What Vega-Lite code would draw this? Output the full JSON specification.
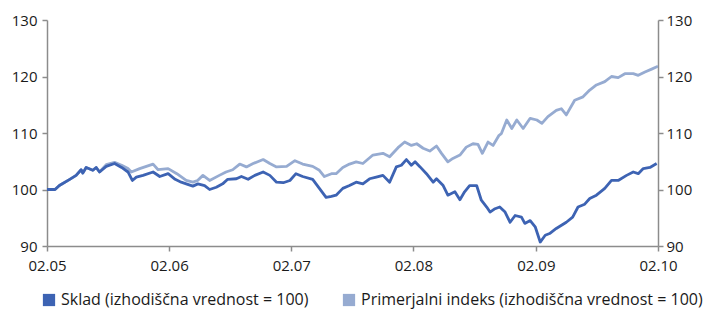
{
  "$schema": "https://vega.github.io/schema/vega-lite/v6.json",
  "width": 611,
  "height": 226,
  "autosize": "none",
  "padding": {"left": 47, "top": 20, "right": 47, "bottom": 65},
  "background": "white",
  "config": {
    "view": {"stroke": null},
    "font": "Open Sans",
    "axis": {"labelFont": "Open Sans", "labelColor": "#1a1a1a", "domainColor": "#8c8c8c", "tickColor": "#8c8c8c", "domainWidth": 1.5, "tickWidth": 1.5, "grid": false, "title": null}
  },
  "data": {
    "values": [
      {"d": "2005-02-01", "s": "Primerjalni indeks (izhodiščna vrednost = 100)", "v": 100.0},
      {"d": "2005-02-25", "s": "Primerjalni indeks (izhodiščna vrednost = 100)", "v": 100.0},
      {"d": "2005-03-10", "s": "Primerjalni indeks (izhodiščna vrednost = 100)", "v": 100.7},
      {"d": "2005-04-10", "s": "Primerjalni indeks (izhodiščna vrednost = 100)", "v": 101.8},
      {"d": "2005-04-29", "s": "Primerjalni indeks (izhodiščna vrednost = 100)", "v": 102.5},
      {"d": "2005-05-14", "s": "Primerjalni indeks (izhodiščna vrednost = 100)", "v": 103.5},
      {"d": "2005-05-19", "s": "Primerjalni indeks (izhodiščna vrednost = 100)", "v": 102.9},
      {"d": "2005-05-29", "s": "Primerjalni indeks (izhodiščna vrednost = 100)", "v": 103.9},
      {"d": "2005-06-18", "s": "Primerjalni indeks (izhodiščna vrednost = 100)", "v": 103.4},
      {"d": "2005-06-28", "s": "Primerjalni indeks (izhodiščna vrednost = 100)", "v": 103.9},
      {"d": "2005-07-08", "s": "Primerjalni indeks (izhodiščna vrednost = 100)", "v": 103.1},
      {"d": "2005-07-28", "s": "Primerjalni indeks (izhodiščna vrednost = 100)", "v": 104.4},
      {"d": "2005-08-22", "s": "Primerjalni indeks (izhodiščna vrednost = 100)", "v": 104.8},
      {"d": "2005-09-12", "s": "Primerjalni indeks (izhodiščna vrednost = 100)", "v": 104.3},
      {"d": "2005-10-01", "s": "Primerjalni indeks (izhodiščna vrednost = 100)", "v": 103.7},
      {"d": "2005-10-11", "s": "Primerjalni indeks (izhodiščna vrednost = 100)", "v": 103.1},
      {"d": "2005-11-05", "s": "Primerjalni indeks (izhodiščna vrednost = 100)", "v": 103.7},
      {"d": "2005-12-15", "s": "Primerjalni indeks (izhodiščna vrednost = 100)", "v": 104.5},
      {"d": "2005-12-30", "s": "Primerjalni indeks (izhodiščna vrednost = 100)", "v": 103.5},
      {"d": "2006-01-29", "s": "Primerjalni indeks (izhodiščna vrednost = 100)", "v": 103.7},
      {"d": "2006-02-24", "s": "Primerjalni indeks (izhodiščna vrednost = 100)", "v": 102.8},
      {"d": "2006-03-24", "s": "Primerjalni indeks (izhodiščna vrednost = 100)", "v": 101.6},
      {"d": "2006-04-13", "s": "Primerjalni indeks (izhodiščna vrednost = 100)", "v": 101.3},
      {"d": "2006-04-27", "s": "Primerjalni indeks (izhodiščna vrednost = 100)", "v": 101.6},
      {"d": "2006-05-13", "s": "Primerjalni indeks (izhodiščna vrednost = 100)", "v": 102.5},
      {"d": "2006-06-02", "s": "Primerjalni indeks (izhodiščna vrednost = 100)", "v": 101.6},
      {"d": "2006-07-01", "s": "Primerjalni indeks (izhodiščna vrednost = 100)", "v": 102.5},
      {"d": "2006-07-21", "s": "Primerjalni indeks (izhodiščna vrednost = 100)", "v": 103.1},
      {"d": "2006-08-10", "s": "Primerjalni indeks (izhodiščna vrednost = 100)", "v": 103.5},
      {"d": "2006-08-31", "s": "Primerjalni indeks (izhodiščna vrednost = 100)", "v": 104.5},
      {"d": "2006-09-20", "s": "Primerjalni indeks (izhodiščna vrednost = 100)", "v": 104.0},
      {"d": "2006-10-10", "s": "Primerjalni indeks (izhodiščna vrednost = 100)", "v": 104.6},
      {"d": "2006-11-09", "s": "Primerjalni indeks (izhodiščna vrednost = 100)", "v": 105.3},
      {"d": "2006-11-29", "s": "Primerjalni indeks (izhodiščna vrednost = 100)", "v": 104.6},
      {"d": "2006-12-19", "s": "Primerjalni indeks (izhodiščna vrednost = 100)", "v": 104.0},
      {"d": "2007-01-18", "s": "Primerjalni indeks (izhodiščna vrednost = 100)", "v": 104.1},
      {"d": "2007-02-12", "s": "Primerjalni indeks (izhodiščna vrednost = 100)", "v": 105.1},
      {"d": "2007-03-07", "s": "Primerjalni indeks (izhodiščna vrednost = 100)", "v": 104.5},
      {"d": "2007-04-06", "s": "Primerjalni indeks (izhodiščna vrednost = 100)", "v": 104.1},
      {"d": "2007-04-26", "s": "Primerjalni indeks (izhodiščna vrednost = 100)", "v": 103.4},
      {"d": "2007-05-11", "s": "Primerjalni indeks (izhodiščna vrednost = 100)", "v": 102.3},
      {"d": "2007-06-01", "s": "Primerjalni indeks (izhodiščna vrednost = 100)", "v": 102.8},
      {"d": "2007-06-15", "s": "Primerjalni indeks (izhodiščna vrednost = 100)", "v": 102.8},
      {"d": "2007-07-05", "s": "Primerjalni indeks (izhodiščna vrednost = 100)", "v": 103.9},
      {"d": "2007-07-25", "s": "Primerjalni indeks (izhodiščna vrednost = 100)", "v": 104.5},
      {"d": "2007-08-14", "s": "Primerjalni indeks (izhodiščna vrednost = 100)", "v": 104.9},
      {"d": "2007-09-03", "s": "Primerjalni indeks (izhodiščna vrednost = 100)", "v": 104.6},
      {"d": "2007-10-03", "s": "Primerjalni indeks (izhodiščna vrednost = 100)", "v": 106.1},
      {"d": "2007-11-02", "s": "Primerjalni indeks (izhodiščna vrednost = 100)", "v": 106.4},
      {"d": "2007-11-22", "s": "Primerjalni indeks (izhodiščna vrednost = 100)", "v": 105.8},
      {"d": "2007-12-17", "s": "Primerjalni indeks (izhodiščna vrednost = 100)", "v": 107.4},
      {"d": "2008-01-06", "s": "Primerjalni indeks (izhodiščna vrednost = 100)", "v": 108.4},
      {"d": "2008-01-26", "s": "Primerjalni indeks (izhodiščna vrednost = 100)", "v": 107.8},
      {"d": "2008-02-11", "s": "Primerjalni indeks (izhodiščna vrednost = 100)", "v": 108.1},
      {"d": "2008-03-01", "s": "Primerjalni indeks (izhodiščna vrednost = 100)", "v": 107.3},
      {"d": "2008-03-21", "s": "Primerjalni indeks (izhodiščna vrednost = 100)", "v": 106.8},
      {"d": "2008-04-10", "s": "Primerjalni indeks (izhodiščna vrednost = 100)", "v": 107.7},
      {"d": "2008-04-25", "s": "Primerjalni indeks (izhodiščna vrednost = 100)", "v": 106.4},
      {"d": "2008-05-14", "s": "Primerjalni indeks (izhodiščna vrednost = 100)", "v": 104.9},
      {"d": "2008-05-29", "s": "Primerjalni indeks (izhodiščna vrednost = 100)", "v": 105.5},
      {"d": "2008-06-19", "s": "Primerjalni indeks (izhodiščna vrednost = 100)", "v": 106.1},
      {"d": "2008-07-08", "s": "Primerjalni indeks (izhodiščna vrednost = 100)", "v": 107.5},
      {"d": "2008-07-28", "s": "Primerjalni indeks (izhodiščna vrednost = 100)", "v": 108.1},
      {"d": "2008-08-12", "s": "Primerjalni indeks (izhodiščna vrednost = 100)", "v": 108.0},
      {"d": "2008-08-25", "s": "Primerjalni indeks (izhodiščna vrednost = 100)", "v": 106.4},
      {"d": "2008-09-11", "s": "Primerjalni indeks (izhodiščna vrednost = 100)", "v": 108.4},
      {"d": "2008-09-26", "s": "Primerjalni indeks (izhodiščna vrednost = 100)", "v": 107.8},
      {"d": "2008-10-14", "s": "Primerjalni indeks (izhodiščna vrednost = 100)", "v": 109.6},
      {"d": "2008-10-21", "s": "Primerjalni indeks (izhodiščna vrednost = 100)", "v": 109.9},
      {"d": "2008-11-06", "s": "Primerjalni indeks (izhodiščna vrednost = 100)", "v": 112.3},
      {"d": "2008-11-21", "s": "Primerjalni indeks (izhodiščna vrednost = 100)", "v": 110.8},
      {"d": "2008-12-06", "s": "Primerjalni indeks (izhodiščna vrednost = 100)", "v": 112.3},
      {"d": "2008-12-25", "s": "Primerjalni indeks (izhodiščna vrednost = 100)", "v": 110.8},
      {"d": "2009-01-15", "s": "Primerjalni indeks (izhodiščna vrednost = 100)", "v": 112.6},
      {"d": "2009-02-04", "s": "Primerjalni indeks (izhodiščna vrednost = 100)", "v": 112.3},
      {"d": "2009-02-19", "s": "Primerjalni indeks (izhodiščna vrednost = 100)", "v": 111.7},
      {"d": "2009-03-09", "s": "Primerjalni indeks (izhodiščna vrednost = 100)", "v": 112.9},
      {"d": "2009-04-03", "s": "Primerjalni indeks (izhodiščna vrednost = 100)", "v": 114.0},
      {"d": "2009-04-18", "s": "Primerjalni indeks (izhodiščna vrednost = 100)", "v": 114.3},
      {"d": "2009-05-03", "s": "Primerjalni indeks (izhodiščna vrednost = 100)", "v": 113.2},
      {"d": "2009-05-28", "s": "Primerjalni indeks (izhodiščna vrednost = 100)", "v": 115.8},
      {"d": "2009-06-22", "s": "Primerjalni indeks (izhodiščna vrednost = 100)", "v": 116.4},
      {"d": "2009-07-12", "s": "Primerjalni indeks (izhodiščna vrednost = 100)", "v": 117.6},
      {"d": "2009-08-01", "s": "Primerjalni indeks (izhodiščna vrednost = 100)", "v": 118.5},
      {"d": "2009-08-26", "s": "Primerjalni indeks (izhodiščna vrednost = 100)", "v": 119.1},
      {"d": "2009-09-15", "s": "Primerjalni indeks (izhodiščna vrednost = 100)", "v": 120.0},
      {"d": "2009-10-05", "s": "Primerjalni indeks (izhodiščna vrednost = 100)", "v": 119.8},
      {"d": "2009-10-25", "s": "Primerjalni indeks (izhodiščna vrednost = 100)", "v": 120.5},
      {"d": "2009-11-19", "s": "Primerjalni indeks (izhodiščna vrednost = 100)", "v": 120.5},
      {"d": "2009-12-04", "s": "Primerjalni indeks (izhodiščna vrednost = 100)", "v": 120.2},
      {"d": "2009-12-24", "s": "Primerjalni indeks (izhodiščna vrednost = 100)", "v": 120.8},
      {"d": "2010-01-13", "s": "Primerjalni indeks (izhodiščna vrednost = 100)", "v": 121.3},
      {"d": "2010-02-01", "s": "Primerjalni indeks (izhodiščna vrednost = 100)", "v": 121.8},
      {"d": "2005-02-01", "s": "Sklad (izhodiščna vrednost = 100)", "v": 100.0},
      {"d": "2005-02-25", "s": "Sklad (izhodiščna vrednost = 100)", "v": 100.0},
      {"d": "2005-03-10", "s": "Sklad (izhodiščna vrednost = 100)", "v": 100.7},
      {"d": "2005-04-10", "s": "Sklad (izhodiščna vrednost = 100)", "v": 101.8},
      {"d": "2005-04-29", "s": "Sklad (izhodiščna vrednost = 100)", "v": 102.5},
      {"d": "2005-05-14", "s": "Sklad (izhodiščna vrednost = 100)", "v": 103.5},
      {"d": "2005-05-19", "s": "Sklad (izhodiščna vrednost = 100)", "v": 102.9},
      {"d": "2005-05-29", "s": "Sklad (izhodiščna vrednost = 100)", "v": 103.9},
      {"d": "2005-06-18", "s": "Sklad (izhodiščna vrednost = 100)", "v": 103.4},
      {"d": "2005-06-28", "s": "Sklad (izhodiščna vrednost = 100)", "v": 103.9},
      {"d": "2005-07-08", "s": "Sklad (izhodiščna vrednost = 100)", "v": 103.1},
      {"d": "2005-07-28", "s": "Sklad (izhodiščna vrednost = 100)", "v": 104.1},
      {"d": "2005-08-22", "s": "Sklad (izhodiščna vrednost = 100)", "v": 104.6},
      {"d": "2005-09-12", "s": "Sklad (izhodiščna vrednost = 100)", "v": 103.9},
      {"d": "2005-10-01", "s": "Sklad (izhodiščna vrednost = 100)", "v": 103.1},
      {"d": "2005-10-14", "s": "Sklad (izhodiščna vrednost = 100)", "v": 101.6},
      {"d": "2005-10-26", "s": "Sklad (izhodiščna vrednost = 100)", "v": 102.2},
      {"d": "2005-11-15", "s": "Sklad (izhodiščna vrednost = 100)", "v": 102.5},
      {"d": "2005-12-15", "s": "Sklad (izhodiščna vrednost = 100)", "v": 103.1},
      {"d": "2006-01-04", "s": "Sklad (izhodiščna vrednost = 100)", "v": 102.3},
      {"d": "2006-01-29", "s": "Sklad (izhodiščna vrednost = 100)", "v": 102.8},
      {"d": "2006-02-19", "s": "Sklad (izhodiščna vrednost = 100)", "v": 101.8},
      {"d": "2006-03-09", "s": "Sklad (izhodiščna vrednost = 100)", "v": 101.3},
      {"d": "2006-03-24", "s": "Sklad (izhodiščna vrednost = 100)", "v": 101.0},
      {"d": "2006-04-13", "s": "Sklad (izhodiščna vrednost = 100)", "v": 100.6},
      {"d": "2006-04-28", "s": "Sklad (izhodiščna vrednost = 100)", "v": 101.0},
      {"d": "2006-05-18", "s": "Sklad (izhodiščna vrednost = 100)", "v": 100.7},
      {"d": "2006-06-02", "s": "Sklad (izhodiščna vrednost = 100)", "v": 100.0},
      {"d": "2006-06-22", "s": "Sklad (izhodiščna vrednost = 100)", "v": 100.4},
      {"d": "2006-07-11", "s": "Sklad (izhodiščna vrednost = 100)", "v": 101.0},
      {"d": "2006-07-26", "s": "Sklad (izhodiščna vrednost = 100)", "v": 101.8},
      {"d": "2006-08-21", "s": "Sklad (izhodiščna vrednost = 100)", "v": 101.9},
      {"d": "2006-09-05", "s": "Sklad (izhodiščna vrednost = 100)", "v": 102.3},
      {"d": "2006-09-25", "s": "Sklad (izhodiščna vrednost = 100)", "v": 101.8},
      {"d": "2006-10-15", "s": "Sklad (izhodiščna vrednost = 100)", "v": 102.5},
      {"d": "2006-11-09", "s": "Sklad (izhodiščna vrednost = 100)", "v": 103.1},
      {"d": "2006-11-29", "s": "Sklad (izhodiščna vrednost = 100)", "v": 102.5},
      {"d": "2006-12-19", "s": "Sklad (izhodiščna vrednost = 100)", "v": 101.3},
      {"d": "2007-01-08", "s": "Sklad (izhodiščna vrednost = 100)", "v": 101.2},
      {"d": "2007-01-28", "s": "Sklad (izhodiščna vrednost = 100)", "v": 101.6},
      {"d": "2007-02-15", "s": "Sklad (izhodiščna vrednost = 100)", "v": 102.8},
      {"d": "2007-03-07", "s": "Sklad (izhodiščna vrednost = 100)", "v": 102.3},
      {"d": "2007-04-06", "s": "Sklad (izhodiščna vrednost = 100)", "v": 101.8},
      {"d": "2007-04-26", "s": "Sklad (izhodiščna vrednost = 100)", "v": 100.2},
      {"d": "2007-05-16", "s": "Sklad (izhodiščna vrednost = 100)", "v": 98.6},
      {"d": "2007-06-01", "s": "Sklad (izhodiščna vrednost = 100)", "v": 98.8},
      {"d": "2007-06-15", "s": "Sklad (izhodiščna vrednost = 100)", "v": 99.0},
      {"d": "2007-07-05", "s": "Sklad (izhodiščna vrednost = 100)", "v": 100.2},
      {"d": "2007-07-25", "s": "Sklad (izhodiščna vrednost = 100)", "v": 100.7},
      {"d": "2007-08-14", "s": "Sklad (izhodiščna vrednost = 100)", "v": 101.3},
      {"d": "2007-09-03", "s": "Sklad (izhodiščna vrednost = 100)", "v": 101.0},
      {"d": "2007-09-23", "s": "Sklad (izhodiščna vrednost = 100)", "v": 101.9},
      {"d": "2007-10-13", "s": "Sklad (izhodiščna vrednost = 100)", "v": 102.2},
      {"d": "2007-11-02", "s": "Sklad (izhodiščna vrednost = 100)", "v": 102.5},
      {"d": "2007-11-22", "s": "Sklad (izhodiščna vrednost = 100)", "v": 101.3},
      {"d": "2007-12-12", "s": "Sklad (izhodiščna vrednost = 100)", "v": 104.0},
      {"d": "2007-12-27", "s": "Sklad (izhodiščna vrednost = 100)", "v": 104.3},
      {"d": "2008-01-11", "s": "Sklad (izhodiščna vrednost = 100)", "v": 105.3},
      {"d": "2008-01-26", "s": "Sklad (izhodiščna vrednost = 100)", "v": 104.3},
      {"d": "2008-02-06", "s": "Sklad (izhodiščna vrednost = 100)", "v": 104.9},
      {"d": "2008-02-21", "s": "Sklad (izhodiščna vrednost = 100)", "v": 104.0},
      {"d": "2008-03-11", "s": "Sklad (izhodiščna vrednost = 100)", "v": 102.8},
      {"d": "2008-03-31", "s": "Sklad (izhodiščna vrednost = 100)", "v": 101.3},
      {"d": "2008-04-10", "s": "Sklad (izhodiščna vrednost = 100)", "v": 101.9},
      {"d": "2008-04-30", "s": "Sklad (izhodiščna vrednost = 100)", "v": 100.7},
      {"d": "2008-05-14", "s": "Sklad (izhodiščna vrednost = 100)", "v": 99.0},
      {"d": "2008-06-04", "s": "Sklad (izhodiščna vrednost = 100)", "v": 99.6},
      {"d": "2008-06-19", "s": "Sklad (izhodiščna vrednost = 100)", "v": 98.2},
      {"d": "2008-07-03", "s": "Sklad (izhodiščna vrednost = 100)", "v": 99.6},
      {"d": "2008-07-18", "s": "Sklad (izhodiščna vrednost = 100)", "v": 100.7},
      {"d": "2008-08-08", "s": "Sklad (izhodiščna vrednost = 100)", "v": 100.7},
      {"d": "2008-08-22", "s": "Sklad (izhodiščna vrednost = 100)", "v": 98.1},
      {"d": "2008-09-07", "s": "Sklad (izhodiščna vrednost = 100)", "v": 96.9},
      {"d": "2008-09-17", "s": "Sklad (izhodiščna vrednost = 100)", "v": 96.0},
      {"d": "2008-10-02", "s": "Sklad (izhodiščna vrednost = 100)", "v": 96.6},
      {"d": "2008-10-16", "s": "Sklad (izhodiščna vrednost = 100)", "v": 96.9},
      {"d": "2008-11-01", "s": "Sklad (izhodiščna vrednost = 100)", "v": 96.0},
      {"d": "2008-11-16", "s": "Sklad (izhodiščna vrednost = 100)", "v": 94.2},
      {"d": "2008-12-01", "s": "Sklad (izhodiščna vrednost = 100)", "v": 95.4},
      {"d": "2008-12-20", "s": "Sklad (izhodiščna vrednost = 100)", "v": 95.1},
      {"d": "2008-12-30", "s": "Sklad (izhodiščna vrednost = 100)", "v": 94.0},
      {"d": "2009-01-15", "s": "Sklad (izhodiščna vrednost = 100)", "v": 94.5},
      {"d": "2009-01-30", "s": "Sklad (izhodiščna vrednost = 100)", "v": 93.4},
      {"d": "2009-02-14", "s": "Sklad (izhodiščna vrednost = 100)", "v": 90.7},
      {"d": "2009-03-01", "s": "Sklad (izhodiščna vrednost = 100)", "v": 91.9},
      {"d": "2009-03-14", "s": "Sklad (izhodiščna vrednost = 100)", "v": 92.2},
      {"d": "2009-04-03", "s": "Sklad (izhodiščna vrednost = 100)", "v": 93.1},
      {"d": "2009-05-03", "s": "Sklad (izhodiščna vrednost = 100)", "v": 94.2},
      {"d": "2009-05-22", "s": "Sklad (izhodiščna vrednost = 100)", "v": 95.1},
      {"d": "2009-06-07", "s": "Sklad (izhodiščna vrednost = 100)", "v": 96.9},
      {"d": "2009-06-27", "s": "Sklad (izhodiščna vrednost = 100)", "v": 97.4},
      {"d": "2009-07-12", "s": "Sklad (izhodiščna vrednost = 100)", "v": 98.4},
      {"d": "2009-08-01", "s": "Sklad (izhodiščna vrednost = 100)", "v": 99.0},
      {"d": "2009-08-26", "s": "Sklad (izhodiščna vrednost = 100)", "v": 100.2},
      {"d": "2009-09-15", "s": "Sklad (izhodiščna vrednost = 100)", "v": 101.6},
      {"d": "2009-10-05", "s": "Sklad (izhodiščna vrednost = 100)", "v": 101.6},
      {"d": "2009-10-30", "s": "Sklad (izhodiščna vrednost = 100)", "v": 102.5},
      {"d": "2009-11-19", "s": "Sklad (izhodiščna vrednost = 100)", "v": 103.1},
      {"d": "2009-12-04", "s": "Sklad (izhodiščna vrednost = 100)", "v": 102.8},
      {"d": "2009-12-19", "s": "Sklad (izhodiščna vrednost = 100)", "v": 103.7},
      {"d": "2010-01-08", "s": "Sklad (izhodiščna vrednost = 100)", "v": 103.9},
      {"d": "2010-01-28", "s": "Sklad (izhodiščna vrednost = 100)", "v": 104.6}
    ]
  },
  "layer": [
    {
      "mark": {"type": "line", "strokeWidth": 2.8, "strokeJoin": "round", "clip": true},
      "encoding": {
        "x": {
          "field": "d",
          "type": "temporal",
          "scale": {"type": "utc", "domain": [{"year": 2005, "month": 2, "date": 1, "utc": true}, {"year": 2010, "month": 2, "date": 1, "utc": true}]},
          "axis": {
            "values": [
              {"year": 2005, "month": 2, "date": 1, "utc": true},
              {"year": 2006, "month": 2, "date": 1, "utc": true},
              {"year": 2007, "month": 2, "date": 1, "utc": true},
              {"year": 2008, "month": 2, "date": 1, "utc": true},
              {"year": 2009, "month": 2, "date": 1, "utc": true},
              {"year": 2010, "month": 2, "date": 1, "utc": true}
            ],
            "labelExpr": "utcFormat(datum.value, '%m.%y')",
            "labelFontSize": 15,
            "tickSize": 5,
            "labelPadding": 7,
            "labelFlush": false,
            "labelOverlap": false,
            "encode": {"ticks": {"update": {"y": {"value": -5}}}}
          }
        },
        "y": {
          "field": "v",
          "type": "quantitative",
          "scale": {"domain": [90, 130], "nice": false, "zero": false},
          "axis": {"orient": "left", "values": [90, 100, 110, 120, 130], "labelFontSize": 15, "tickSize": 5, "labelPadding": 5, "labelFlush": false, "labelOverlap": false}
        },
        "color": {
          "field": "s",
          "type": "nominal",
          "scale": {
            "domain": ["Sklad (izhodiščna vrednost = 100)", "Primerjalni indeks (izhodiščna vrednost = 100)"],
            "range": ["#3d63b3", "#96abd1"]
          },
          "legend": {
            "title": null,
            "orient": "none",
            "legendX": -6,
            "legendY": 272,
            "direction": "horizontal",
            "symbolType": "square",
            "symbolSize": 150,
            "symbolStrokeWidth": 0,
            "symbolOpacity": 1,
            "labelFontSize": 16,
            "labelColor": "#1a1a1a",
            "labelLimit": 400,
            "labelOffset": 4,
            "columnPadding": 32,
            "encode": {"symbols": {"update": {"fill": {"scale": "color", "field": "value"}, "strokeWidth": {"value": 0}}}}
          }
        }
      }
    },
    {
      "mark": {"type": "rule", "opacity": 0},
      "encoding": {
        "y": {
          "datum": 100,
          "type": "quantitative",
          "axis": {"orient": "right", "values": [90, 100, 110, 120, 130], "labelFontSize": 15, "tickSize": 5, "labelPadding": 3, "labelFlush": false, "labelOverlap": false, "encode": {"ticks": {"update": {"x": {"value": -5}}}}}
        }
      }
    }
  ],
  "resolve": {"axis": {"y": "independent"}}
}
